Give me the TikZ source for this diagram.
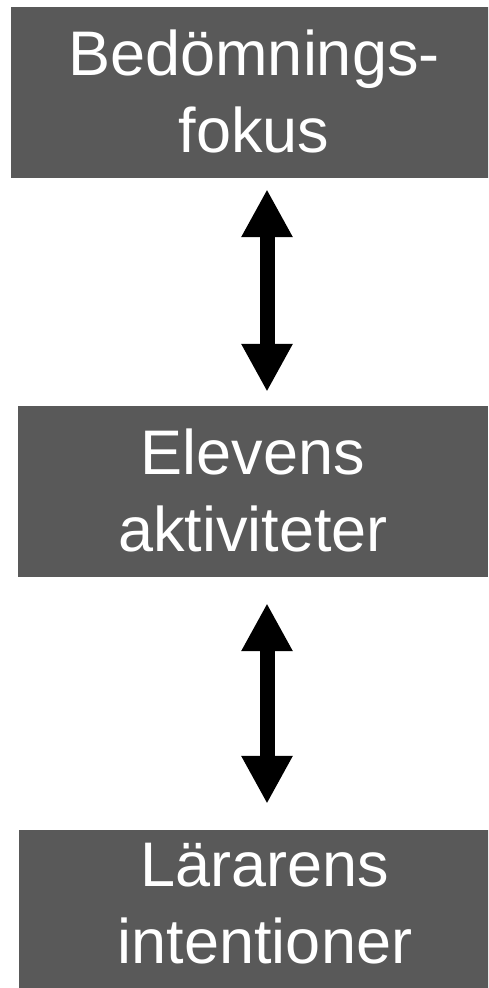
\documentclass[tikz,border=0pt]{standalone}
\usepackage{fontspec}
\setmainfont{Liberation Sans}
\usetikzlibrary{arrows.meta}
\definecolor{boxgray}{HTML}{595959}

\begin{document}
\begin{tikzpicture}[x=1pt,y=-1pt,
    every node/.style={font=\fontsize{63}{77}\selectfont},
    stage/.style={fill=boxgray,text=white,align=center,inner sep=0pt,minimum height=171pt,
      text height=120pt,text depth=0pt},
    biarrow/.style={{Triangle[length=48pt,width=48pt]}-{Triangle[length=48pt,width=48pt]},line width=15pt}]
    \useasboundingbox (0,0) rectangle (488,988);
    \clip (0,0) rectangle (488,988);
    \node[stage,minimum width=486pt] (fokus) at (254,92.5) {Bedömnings-\\fokus};
    \node[stage,minimum width=470pt] (elev) at (253,491.5) {Elevens\\aktiviteter};
    \node[stage,minimum width=492pt,text height=95pt] (larare) at (265,915.5) {Lärarens\\intentioner};
    % arrows share one vertical axis
    \coordinate (axis) at (267,0);
    \draw[biarrow,shorten <=11pt,shorten >=14pt] (fokus.south -| axis) -- (elev.north -| axis);
    \draw[biarrow,shorten <=26pt,shorten >=26pt] (elev.south -| axis) -- (larare.north -| axis);
  \end{tikzpicture}
\end{document}
